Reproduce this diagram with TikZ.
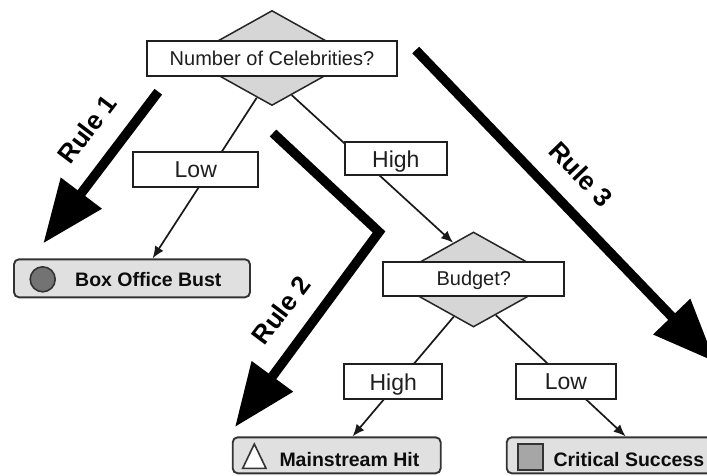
\documentclass[tikz,border=0pt]{standalone}
\usepackage{fontspec}
\setmainfont{Liberation Sans}
\usetikzlibrary{shapes.geometric,arrows.meta}

\tikzset{
  qdiamond/.style={diamond, draw=black!85, line width=1.5pt, fill=black!16,
    minimum width=170pt, minimum height=95pt, inner sep=0pt},
  qbox/.style={rectangle, draw=black!88, line width=2pt, fill=white,
    minimum height=35pt, inner sep=0pt, text depth=0pt, text=black!88,
    font=\fontsize{20}{24}\selectfont},
  choice/.style={qbox, font=\fontsize{23}{27}\selectfont},
  leaf/.style={rectangle, rounded corners=5pt, draw=black!80, line width=1.9pt,
    fill=black!12, minimum height=37pt, inner sep=0pt},
  leaftext/.style={font=\bfseries\fontsize{19.5}{23}\selectfont, text=black!95,
    inner sep=0pt, anchor=base west},
  icon/.style={draw=black!80, line width=1.6pt, inner sep=0pt},
  edge/.style={draw=black!90, line width=1.7pt, -{Latex[length=12pt,width=10pt]}},
  rulearrow/.style={line width=9.5pt, line join=miter,
    -{Triangle[length=63pt,width=49pt]}},
  rulelabel/.style={font=\bfseries\fontsize{26}{30}\selectfont, inner sep=0pt},
}

\begin{document}
\begin{tikzpicture}[x=1pt,y=-1pt]
  \useasboundingbox (0,0) rectangle (707,475);
  \clip (0,0) rectangle (707,475);

  % decision diamonds
  \node[qdiamond] (celeb) at (272,58) {};
  \node[qdiamond] (budget) at (473.5,279.5) {};

  % question boxes laid over the diamonds
  \node[qbox, minimum width=250pt] (celebq) at (272,58.3) {Number of Celebrities?};
  \node[qbox, minimum width=181pt, minimum height=34pt] (budgetq) at (473.8,278.7) {Budget?};

  % outcome boxes
  \node[leaf, minimum width=236pt, minimum height=38pt] (bust) at (132,278.3) {};
  \node[leaf, minimum width=208pt, minimum height=36pt] (hit) at (336.7,455.3) {};
  \node[leaf, minimum width=209.3pt, minimum height=36pt] (crit) at (611.35,455.3) {};

  % outcome icons and texts
  \node[icon, circle, fill=black!55, minimum size=25pt] (bustIcon) at (42.7,279.3) {};
  \node[leaftext] (bustText) at (75,286.7) {Box Office Bust};
  \draw[icon, fill=white, line join=miter] (242.7,468.3) -- (266,468.3) -- (254.3,444) -- cycle;
  \node[leaftext] (hitText) at (279.3,466.5) {Mainstream Hit};
  \node[icon, rectangle, fill=black!35, minimum width=25pt, minimum height=26pt] (critIcon) at (530.2,457) {};
  \node[leaftext] (critText) at (553.3,466.5) {Critical Success};

  % tree edges
  \draw[edge] (celeb.249) -- (bust.44);
  \draw[edge] (celeb.-62) -- (budget.119);
  \draw[edge] (budget.242) -- (hit.50);
  \draw[edge] (budget.-58) -- (crit.53);

  % edge labels
  \node[choice, minimum width=125pt] (low1) at (195.8,169.8) {Low};
  \node[choice, minimum width=101.7pt, minimum height=33pt] (high1) at (395.8,158.8) {High};
  \node[choice, minimum width=98.3pt] (high2) at (393.2,381.7) {High};
  \node[choice, minimum width=100pt] (low2) at (566,381.7) {Low};

  % rule arrows
  \coordinate (r1s) at (158.3,91.7);
  \coordinate (r1e) at (43.3,243.3);
  \coordinate (r2s) at (273,133);
  \coordinate (r2m) at (379,232);
  \coordinate (r2e) at (235,427);
  \coordinate (r3s) at (415.7,50);
  \coordinate (r3e) at (715.3,362);
  \draw[rulearrow] (r1s) -- (r1e);
  \draw[rulearrow] (r2s) -- (r2m) -- (r2e);
  \draw[rulearrow] (r3s) -- (r3e);

  \node[rulelabel, rotate=52.8] (rule1) at (87,129) {Rule 1};
  \node[rulelabel, rotate=53] (rule2) at (281,310) {Rule 2};
  \node[rulelabel, rotate=-46] (rule3) at (581,174) {Rule 3};
\end{tikzpicture}
\end{document}
